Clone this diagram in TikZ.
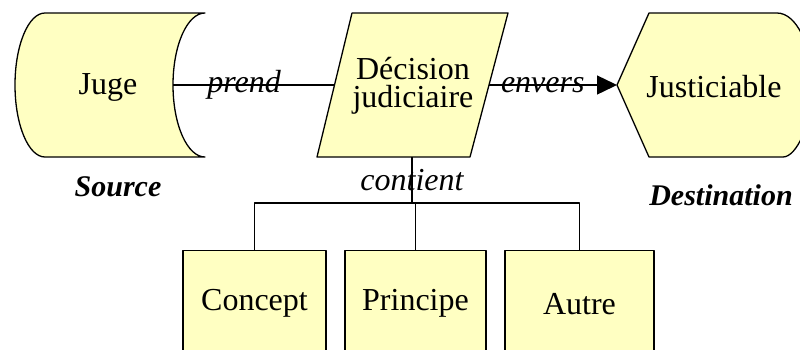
\documentclass[tikz,border=0pt]{standalone}
\usepackage{fontspec}
\setmainfont{Liberation Serif}
\usetikzlibrary{arrows.meta}
\definecolor{fondjaune}{RGB}{255,255,194}
\tikzset{
  forme/.style={draw, fill=fondjaune, line width=1.3pt, line join=round},
  boite/.style={forme, rectangle, minimum height=106pt, anchor=north, inner sep=0pt, font=\fontsize{32}{28}\selectfont},
  texte/.style={font=\fontsize{32}{28}\selectfont, align=center},
  lien/.style={font=\fontsize{32}{28}\selectfont\itshape, inner sep=0pt},
  role/.style={font=\fontsize{30}{30}\selectfont\bfseries\itshape}
}
\begin{document}
\begin{tikzpicture}[x=1pt,y=-1pt,>={Triangle[length=20pt,width=19pt]}, line width=1.4pt, line join=round]
\useasboundingbox (0,0) rectangle (800,349);
\clip (0,0) rectangle (800,349);
% formes
\draw[forme] (45,13) -- (205,13) .. controls (187.3,13) and (173,45.2) .. (173,85) .. controls (173,124.8) and (187.3,157) .. (205,157) -- (45,157) .. controls (28.4,157) and (15,124.8) .. (15,85) .. controls (15,45.2) and (28.4,13) .. (45,13) -- cycle;
\draw[forme] (352,13) -- (508,13) -- (470,157) -- (317,157) -- cycle;
\draw[forme] (649,13) -- (777,13) .. controls (796.3,13) and (812,45.2) .. (812,85) .. controls (812,124.8) and (796.3,157) .. (783,157) -- (649,157) -- (617,85) -- cycle;
\node[texte] (juge) at (108,87) {Juge};
\node[texte] (decision) at (413,86) {Décision\\judiciaire};
\node[texte] (justiciable) at (714,87) {Justiciable};
\coordinate (jugeD) at (173,85);
\coordinate (decisionG) at (334.5,85);
\coordinate (decisionD) at (489,85);
\coordinate (justiciableG) at (617,85);
\coordinate (decisionB) at (412,157);
\coordinate (fourche) at (412,203);
\node[role] (source) at (118,187) {Source};
\node[role] (destination) at (721,195) {Destination};
% relations
\draw (jugeD) -- node[lien,pos=0.44]{prend} (decisionG);
\draw[->] (decisionD) -- node[lien,pos=0.42]{envers} (justiciableG);
\draw (decisionB) -- node[lien]{contient} (fourche);
\node[boite,minimum width=143pt] (concept) at (254.5,250) {Concept};
\node[boite,minimum width=141pt] (principe) at (415.5,250) {Principe};
\node[boite,minimum width=149pt] (autre) at (579.5,250) {Autre};
\draw (concept.north) |- (fourche) -| (autre.north);
\draw (principe.north) -- (principe.north |- fourche);
\end{tikzpicture}
\end{document}
